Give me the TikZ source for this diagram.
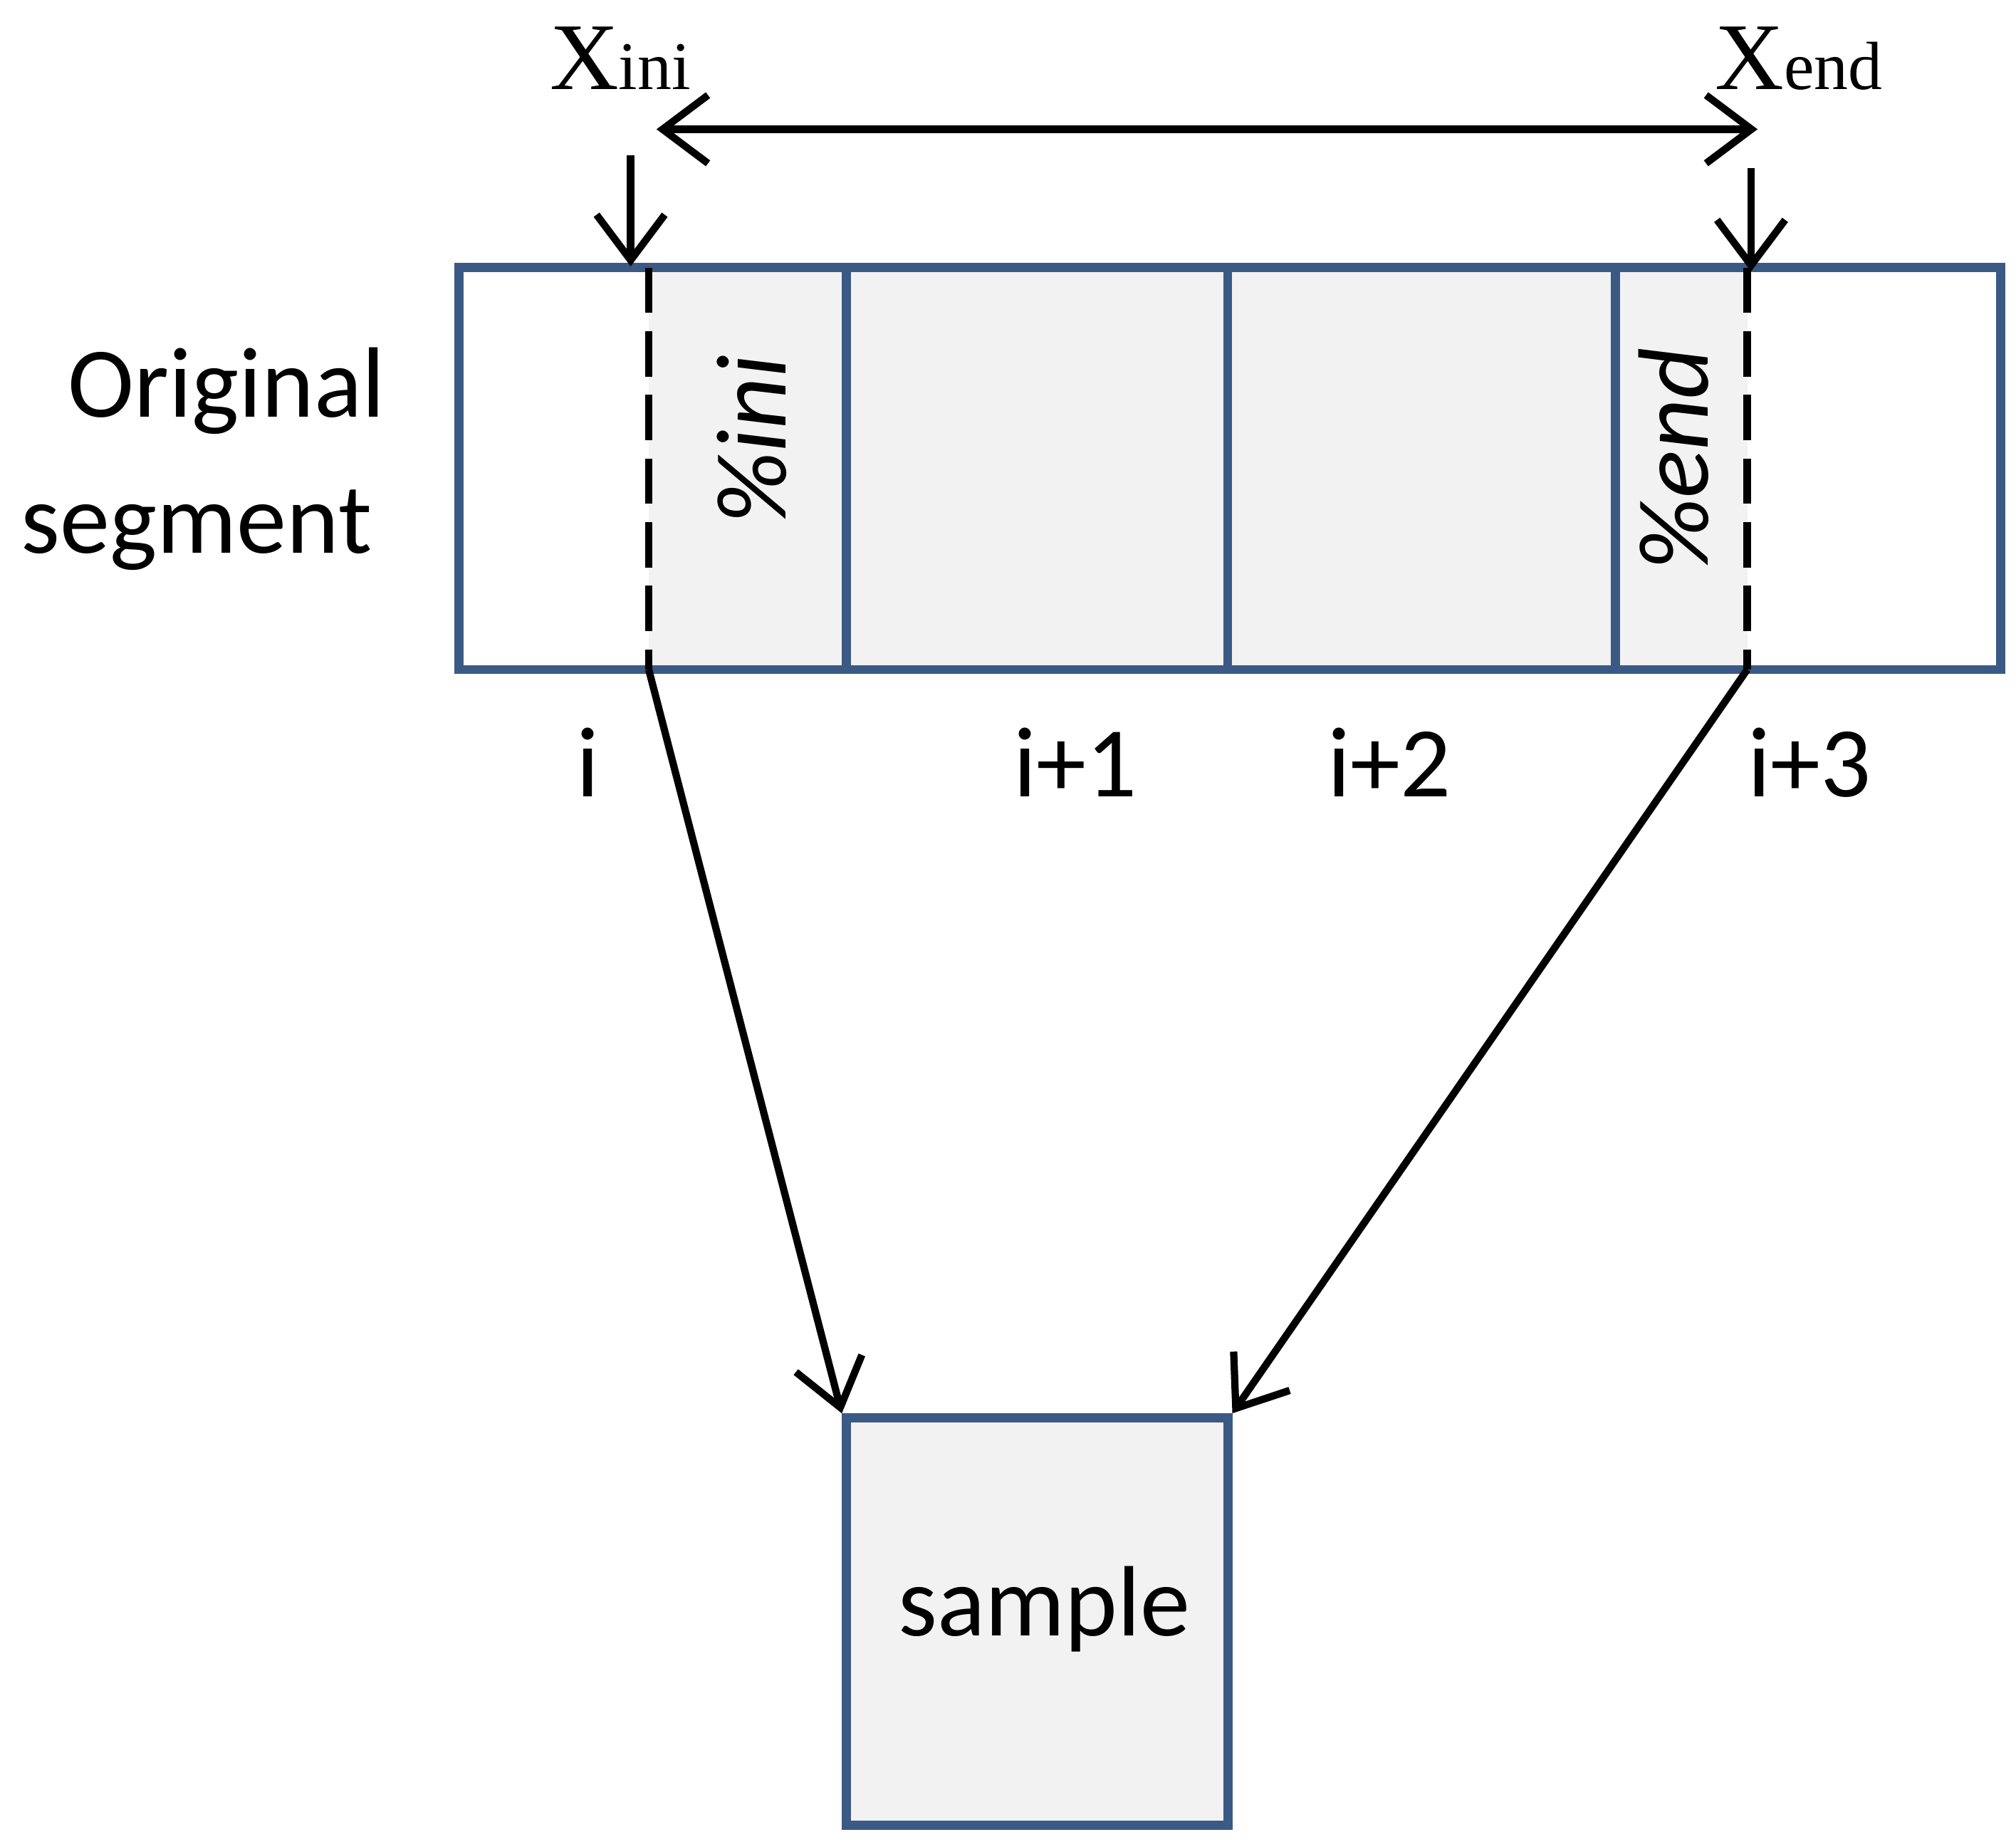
\documentclass[tikz,border=0pt]{standalone}
\usepackage{fontspec}
\setmainfont{Carlito}
\newfontfamily\tnr{Liberation Serif}
\usetikzlibrary{arrows.meta}
\definecolor{bblue}{HTML}{3A5A85}
\definecolor{cellgray}{HTML}{F2F2F2}
\begin{document}
\begin{tikzpicture}[x=0.01cm,y=-0.01cm,
  box/.style={draw=bblue,line width=2pt},
  arr/.style={draw=black,line width=1.6pt,-{Straight Barb[length=10pt,width=15pt,line width=1.6pt]}},
  darr/.style={draw=black,line width=1.6pt,{Straight Barb[length=10pt,width=15pt,line width=1.6pt]}-{Straight Barb[length=10pt,width=15pt,line width=1.6pt]}},
  lbl/.style={font=\fontsize{22}{26}\selectfont,inner sep=0pt},
  xl/.style={font=\tnr\fontsize{21}{23}\selectfont,inner sep=0pt}]
\useasboundingbox (0,0) rectangle (1560,1425);
% cells
\fill[cellgray] (502,207) rectangle (1352,518);
\draw[box] (355,207) rectangle (1548,518);
\draw[box] (655,207) -- (655,518);
\draw[box] (950,207) -- (950,518);
\draw[box] (1250,207) -- (1250,518);
\coordinate (dl1) at (502,207); \coordinate (dl2) at (502,518);
\coordinate (dr1) at (1352,207); \coordinate (dr2) at (1352,518);
\draw[line width=1.6pt,dash pattern=on 10pt off 4pt] (dl1) -- (dl2);
\draw[line width=1.6pt,dash pattern=on 10pt off 4pt] (dr1) -- (dr2);
\node[lbl,rotate=90,font=\itshape\fontsize{22}{26}\selectfont] (pini) at (582,340) {\%ini};
\node[lbl,rotate=90,font=\itshape\fontsize{22}{26}\selectfont] (pend) at (1295,355) {\%end};
\node[lbl,align=center] (orig) at (152,355) {\hspace*{0.6em}Original\\[4pt]segment};
\node[lbl] (li) at (455,590) {i};
\node[lbl] (l1) at (832,590) {i+1};
\node[lbl] (l2) at (1075,590) {i+2};
\node[lbl] (l3) at (1400,590) {i+3};
\node[xl] (xini) at (480,45) {X\fontsize{15}{17}\selectfont ini};
\node[xl] (xend) at (1392,45) {X\fontsize{15}{17}\selectfont end};
\coordinate (da) at (508,100); \coordinate (db) at (1360,100);
\draw[darr] (da) -- (db);
\coordinate (a1) at (488,120); \coordinate (a2) at (488,206);
\coordinate (b1) at (1355,130); \coordinate (b2) at (1355,210);
\draw[arr] (a1) -- (a2);
\draw[arr] (b1) -- (b2);
\node[box,fill=cellgray,minimum width=2.95cm,minimum height=3.15cm,inner sep=0pt] (sample) at (802.5,1254.5) {};
\node[lbl] at (808,1245) {sample};
\draw[arr] (dl2) -- (sample.north west);
\draw[arr] (dr2) -- (sample.north east);
\end{tikzpicture}
\end{document}
